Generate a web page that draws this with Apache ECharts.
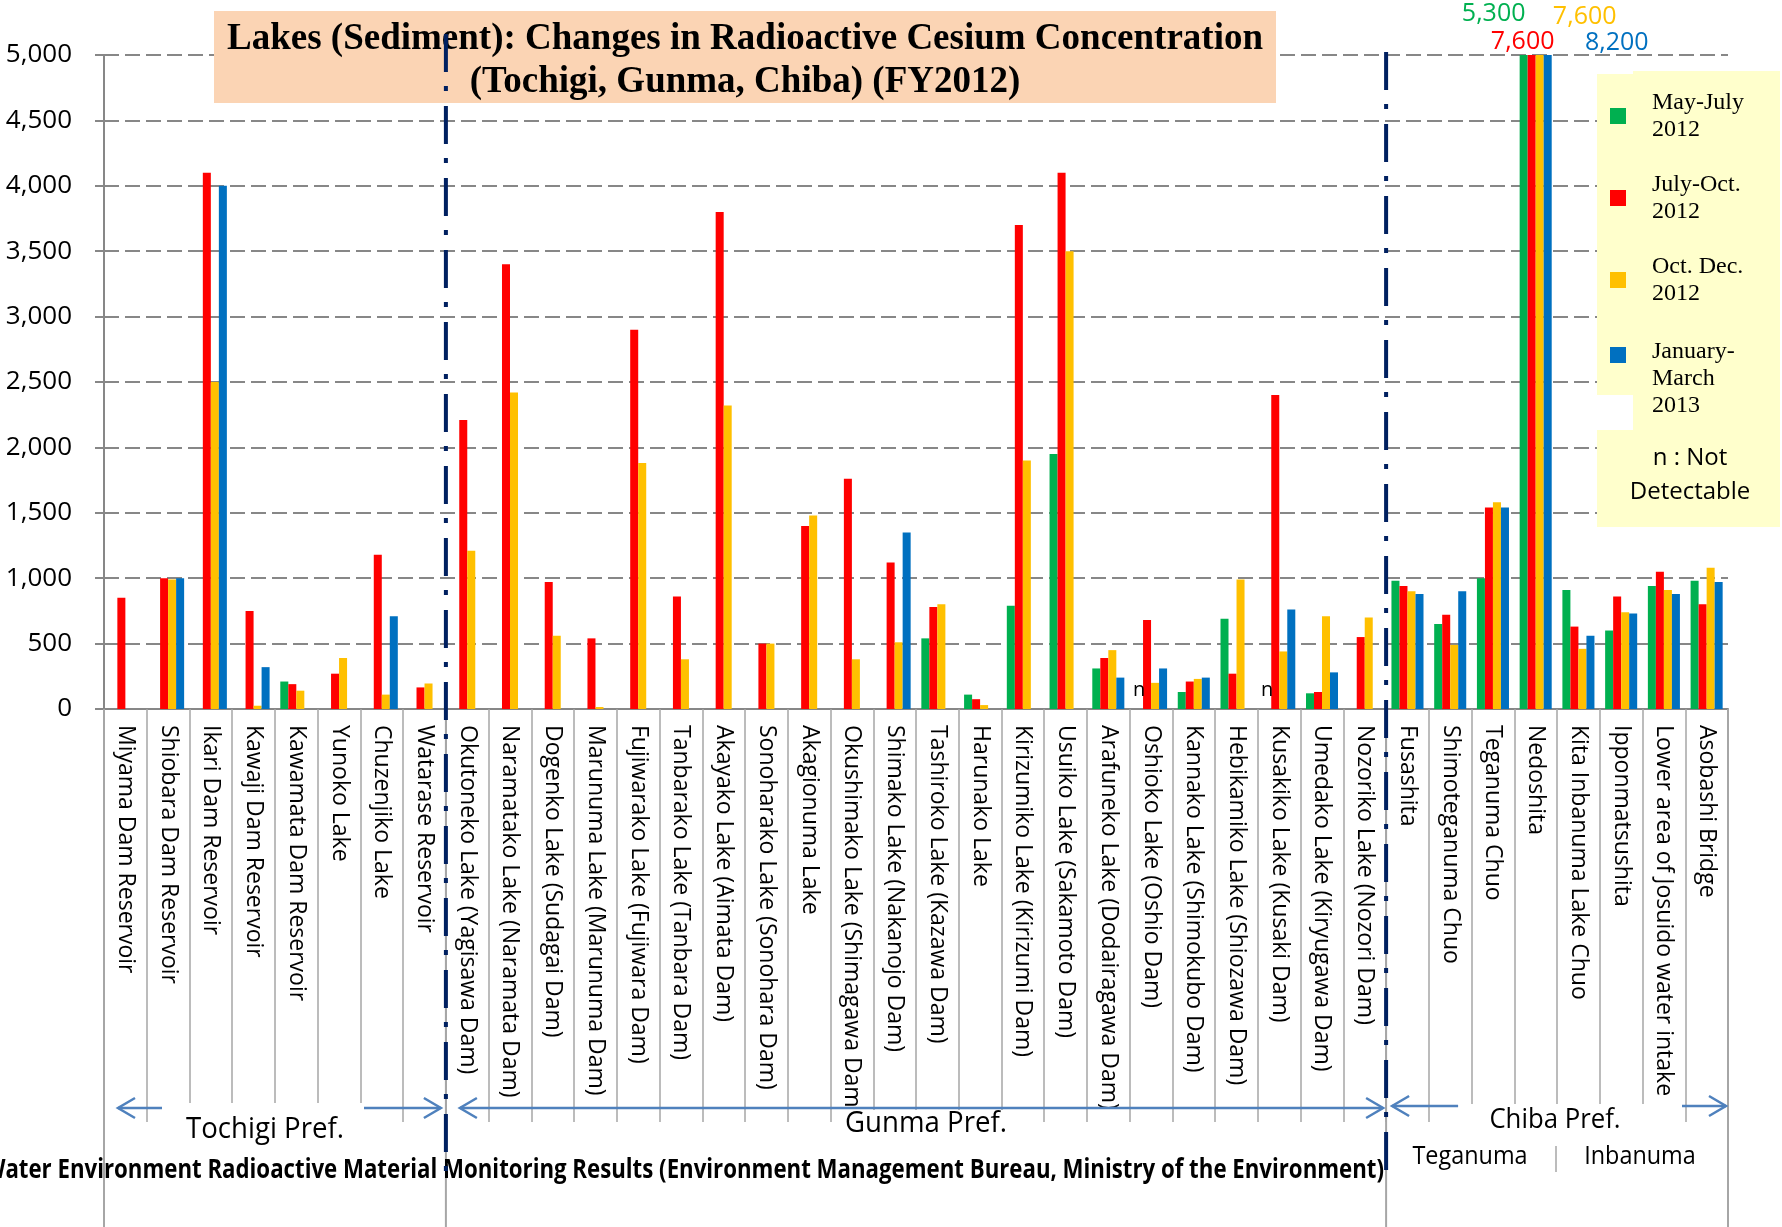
<!DOCTYPE html>
<html>
<head>
<meta charset="utf-8">
<script src="https://cdn.jsdelivr.net/npm/echarts@6/dist/echarts.min.js"></script>
<style>
  html, body { margin: 0; padding: 0; background: #fff; }
  #chart { width: 1782px; height: 1227px; }
</style>
</head>
<body>
<div id="chart"></div>
<script>
// sampling points, left to right
const categories = [
  'Miyama Dam Reservoir', 'Shiobara Dam Reservoir', 'Ikari Dam Reservoir', 'Kawaji Dam Reservoir',
  'Kawamata Dam Reservoir', 'Yunoko Lake', 'Chuzenjiko Lake', 'Watarase Reservoir',
  'Okutoneko Lake (Yagisawa Dam)', 'Naramatako Lake (Naramata Dam)', 'Dogenko Lake (Sudagai Dam)',
  'Marunuma Lake (Marunuma Dam)', 'Fujiwarako Lake (Fujiwara Dam)', 'Tanbarako Lake (Tanbara Dam)',
  'Akayako Lake (Aimata Dam)', 'Sonoharako Lake (Sonohara Dam)', 'Akagionuma Lake',
  'Okushimako Lake (Shimagawa Dam', 'Shimako Lake (Nakanojo Dam)', 'Tashiroko Lake (Kazawa Dam)',
  'Harunako Lake', 'Kirizumiko Lake (Kirizumi Dam)', 'Usuiko Lake (Sakamoto Dam)',
  'Arafuneko Lake (Dodairagawa Dam)', 'Oshioko Lake (Oshio Dam)', 'Kannako Lake (Shimokubo Dam)',
  'Hebikamiko Lake (Shiozawa Dam)', 'Kusakiko Lake (Kusaki Dam)', 'Umedako Lake (Kiryugawa Dam)',
  'Nozoriko Lake (Nozori Dam)',
  'Fusashita', 'Shimoteganuma Chuo', 'Teganuma Chuo', 'Nedoshita', 'Kita Inbanuma Lake Chuo',
  'Ipponmatsushita', 'Lower area of Josuido water intake', 'Asobashi Bridge'
];

// 'n' = not detectable, null = not measured
const mayJul = [null, null, null, null, 210, null, null, null,
  null, null, null, null, null, null, null, null, null, null, null, 540, 110, 790, 1950, 310, 'n', 130, 690, 'n', 120, null,
  980, 650, 1000, 5300, 910, 600, 940, 980];
const julOct = [850, 1000, 4100, 750, 190, 270, 1180, 165,
  2210, 3400, 970, 540, 2900, 860, 3800, 500, 1400, 1760, 1120, 780, 75, 3700, 4100, 390, 680, 210, 270, 2400, 130, 550,
  940, 720, 1540, 7600, 630, 860, 1050, 800];
const octDec = [null, 990, 2500, 25, 140, 390, 110, 195,
  1210, 2420, 560, 15, 1880, 380, 2320, 500, 1480, 380, 510, 800, 30, 1900, 3500, 450, 200, 230, 990, 440, 710, 700,
  900, 490, 1580, 7600, 460, 740, 910, 1080];
const janMar = [null, 1000, 4000, 320, null, null, 710, null,
  null, null, null, null, null, null, null, null, null, null, 1350, null, null, null, null, 240, 310, 240, null, 760, 280, null,
  880, 900, 1540, 8200, 560, 730, 880, 970];

const seriesNames = ['May-July\n2012', 'July-Oct.\n2012', 'Oct. Dec.\n2012', 'January-\nMarch\n2013'];
const seriesValues = [mayJul, julOct, octDec, janMar];
const yMin = 0, yMax = 5000, yStep = 500;
const prefectures = [
  { name: 'Tochigi Pref.', from: 0, to: 8 },
  { name: 'Gunma Pref.', from: 8, to: 30 },
  { name: 'Chiba Pref.', from: 30, to: 38 }
];

const colors = ['#00B050', '#FF0000', '#FFC000', '#0070C0'];
// where the off-scale value labels sit, relative to the clipped bar top
const overOffsets = [[-30, -24], [-9, 4], [45, -21], [69, 5]];
const fmt = v => Number(v).toLocaleString('en-US');

function buildData(values, s) {
  return values.map(v => {
    if (v === 'n') {
      return { value: 0, label: { show: true, position: 'top', formatter: 'n', offset: [0, -4],
        color: '#000', fontSize: 20, fontFamily: 'Open Sans' } };
    }
    if (v != null && v > yMax) {
      return { value: v, label: { show: true, position: 'top', offset: overOffsets[s],
        formatter: p => fmt(p.value), color: colors[s], fontSize: 25, fontFamily: 'Open Sans' } };
    }
    return v;
  });
}

const chart = echarts.init(document.getElementById('chart'));

// square legend marks; the last one sits at the top of a taller, empty icon box
const squareIcon = 'rect';
const tallIcon = 'path://M0,0L16,0L16,16L0,16Z M0,64L0.01,64Z';
const legendTops = [89, 171, 253, 338.5];

chart.setOption({
  animation: false,
  title: {
    text: 'Lakes (Sediment): Changes in Radioactive Cesium Concentration\n(Tochigi, Gunma, Chiba) (FY2012)',
    left: 745, top: 18, textAlign: 'center', padding: 0, z: 6,
    textStyle: { fontFamily: 'Liberation Serif', fontWeight: 'bold', fontSize: 37, lineHeight: 43, color: '#000' }
  },
  legend: seriesNames.map((name, i) => ({
    data: [name], left: 1610, top: legendTops[i], padding: 0, orient: 'vertical',
    icon: i === 3 ? tallIcon : squareIcon, itemWidth: 16, itemHeight: i === 3 ? 64 : 16,
    selectedMode: false, z: 8,
    textStyle: { fontFamily: 'Liberation Serif', fontSize: 24, lineHeight: 27, color: '#000',
      padding: [0, 0, 0, 21] }
  })),
  grid: { left: 104, right: 54, top: 55, bottom: 518, containLabel: false },
  xAxis: {
    type: 'category',
    data: categories,
    axisLine: { lineStyle: { color: '#878787', width: 2 } },
    axisTick: { show: true, interval: 0, length: 413, lineStyle: { color: '#a6a6a6', width: 1.5 } },
    axisLabel: { interval: 0, rotate: -90, margin: 16, color: '#000', fontSize: 23, fontFamily: 'Open Sans' }
  },
  yAxis: {
    type: 'value',
    min: yMin, max: yMax, interval: yStep,
    axisLine: { show: true, lineStyle: { color: '#878787', width: 2 } },
    axisTick: { show: true, length: 9, lineStyle: { color: '#878787', width: 2 } },
    axisLabel: { margin: 32, color: '#000', fontSize: 26, fontFamily: 'Open Sans', formatter: v => fmt(v) },
    splitLine: { lineStyle: { color: '#878787', width: 2, type: [15, 6] } }
  },
  series: seriesValues.map((vals, s) => ({
    type: 'bar',
    name: seriesNames[s],
    data: buildData(vals, s),
    barGap: 0,
    barCategoryGap: '25%',
    clip: true,
    itemStyle: { color: colors[s] }
  }))
});

// decorations placed from the axis scale
const cx = i => chart.convertToPixel({ xAxisIndex: 0 }, i);
const band = cx(1) - cx(0);
const edge = i => cx(0) + (i - 0.5) * band;
const yBase = chart.convertToPixel({ yAxisIndex: 0 }, yMin);
const H = 1227;

const arrowColor = '#4F81BD';

function arrowHead(x, y, dir) {
  return { type: 'polyline', z: 9, shape: { points: [[x - dir * 17, y - 10], [x, y], [x - dir * 17, y + 10]] },
    style: { stroke: arrowColor, lineWidth: 2.5, fill: null } };
}
function hLine(x1, x2, y) {
  return { type: 'line', z: 9, shape: { x1, y1: y, x2, y2: y }, style: { stroke: arrowColor, lineWidth: 2.5 } };
}
function label(text, x, y, size, sx) {
  return { type: 'text', x, y, scaleX: sx, z: 9,
    style: { text, x: 0, y: 0, align: 'center', verticalAlign: 'middle',
      fontFamily: 'Open Sans', fontSize: size, fill: '#000' } };
}

const g = [];
// title backdrop
g.push({ type: 'rect', z: 5, shape: { x: 214, y: 11, width: 1062, height: 92 }, style: { fill: '#FBD4B4' } });
// legend backdrop
g.push({ type: 'rect', z: 5, shape: { x: 1597, y: 74, width: 183, height: 321 }, style: { fill: '#FFFFCC' } });
g.push({ type: 'rect', z: 5, shape: { x: 1633, y: 71, width: 147, height: 359 }, style: { fill: '#FFFFCC' } });
g.push({ type: 'rect', z: 5, shape: { x: 1597, y: 430, width: 183, height: 97 }, style: { fill: '#FFFFCC' } });
g.push({ type: 'text', x: 1690, y: 475, z: 9,
  style: { text: 'n : Not\nDetectable', fontFamily: 'Open Sans', fontSize: 24, lineHeight: 34, fill: '#000',
    align: 'center', verticalAlign: 'middle' } });

// white boxes that hide the separators behind the region labels
g.push({ type: 'rect', z: 4, shape: { x: 164, y: 1103, width: 198, height: 50 }, style: { fill: '#fff' } });
g.push({ type: 'rect', z: 4, shape: { x: 841, y: 1110, width: 170, height: 32 }, style: { fill: '#fff' } });
g.push({ type: 'rect', z: 4, shape: { x: 1460, y: 1104, width: 220, height: 80 }, style: { fill: '#fff' } });

// long boundary lines down to the bottom
[0, 8, 30, 38].forEach(i => {
  g.push({ type: 'line', z: 4, shape: { x1: edge(i), y1: yBase, x2: edge(i), y2: H },
    style: { stroke: '#a6a6a6', lineWidth: 2 } });
});
// prefecture dividers (dash-dot)
[[8, 34], [30, 52]].forEach(([i, top]) => {
  g.push({ type: 'line', z: 10, shape: { x1: edge(i), y1: top, x2: edge(i), y2: 1178 },
    style: { stroke: '#002060', lineWidth: 4, lineDash: [38, 14, 5, 15] } });
});

const e0 = edge(0), e8 = edge(8), e30 = edge(30), e38 = edge(38);
// Tochigi
g.push(hLine(e0 + 14, e0 + 58, 1108), arrowHead(e0 + 14, 1108, -1));
g.push(hLine(364, e8 - 5, 1108), arrowHead(e8 - 5, 1108, 1));
g.push(label(prefectures[0].name, 265, 1129, 30, 0.92));
// Gunma
g.push(hLine(e8 + 14, e30 - 3, 1108), arrowHead(e8 + 14, 1108, -1), arrowHead(e30 - 3, 1108, 1));
g.push(label(prefectures[1].name, 926, 1123, 30, 0.92));
// Chiba
g.push(hLine(e30 + 6, e30 + 72, 1106), arrowHead(e30 + 6, 1106, -1));
g.push(hLine(1682, e38 - 2, 1106), arrowHead(e38 - 2, 1106, 1));
g.push(label(prefectures[2].name, 1555, 1120, 28, 0.92));
g.push(label('Teganuma', 1470, 1157, 26, 0.9));
g.push(label('Inbanuma', 1640, 1157, 26, 0.9));
g.push({ type: 'line', z: 9, shape: { x1: 1556, y1: 1146, x2: 1556, y2: 1172 }, style: { stroke: '#a6a6a6', lineWidth: 1.5 } });

// source line
g.push({ type: 'text', x: 1384, y: 1171, scaleX: 0.855, z: 9,
  style: { text: 'Water Environment Radioactive Material Monitoring Results (Environment Management Bureau, Ministry of the Environment)',
    x: 0, y: 0, align: 'right', verticalAlign: 'middle', fontFamily: 'Open Sans', fontWeight: 'bold', fontSize: 26, fill: '#000' } });

chart.setOption({ graphic: g });
</script>
</body>
</html>
